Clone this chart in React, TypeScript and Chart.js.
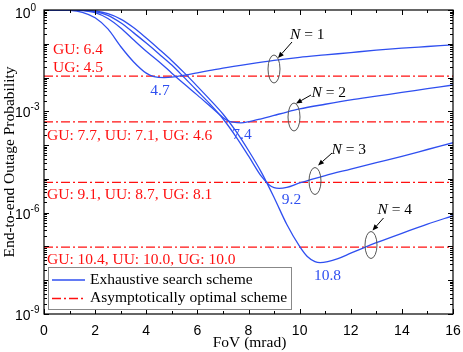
import React, { useEffect, useRef } from 'react';
import { Chart, registerables } from 'chart.js';

Chart.register(...registerables);

// FoV (mrad) and log10(outage probability) for the exhaustive search scheme
const fovN1 = [0, 0.5, 1, 1.5, 2, 2.5, 3, 3.5, 4, 4.3, 4.7, 5, 5.5, 6, 6.5, 7, 8, 9, 10, 11, 12, 13, 14, 15, 16];
const logN1 = [0, 0, -0.01, -0.07, -0.23, -0.56, -1.08, -1.53, -1.87, -1.97, -2.0, -1.99, -1.93, -1.86, -1.79, -1.72, -1.6, -1.49, -1.4, -1.33, -1.26, -1.19, -1.13, -1.08, -1.03];

const fovN2 = [0, 1, 1.5, 2, 2.5, 3, 3.5, 4, 4.5, 5, 5.5, 6, 6.5, 7, 7.2, 7.4, 7.7, 8, 8.5, 9, 9.5, 10, 11, 12, 13, 14, 15, 16];
const logN2 = [0, 0, -0.015, -0.08, -0.25, -0.53, -0.88, -1.22, -1.53, -1.87, -2.2, -2.52, -2.85, -3.18, -3.28, -3.32, -3.34, -3.31, -3.22, -3.12, -3.02, -2.93, -2.79, -2.66, -2.55, -2.44, -2.33, -2.22];

const fovN3 = [0, 1, 1.5, 2, 2.5, 3, 3.5, 4, 4.5, 5, 5.5, 6, 6.5, 7, 7.5, 8, 8.5, 8.8, 9, 9.2, 9.5, 10, 11, 12, 13, 14, 15, 16];
const logN3 = [0, 0, -0.01, -0.05, -0.16, -0.38, -0.67, -0.98, -1.3, -1.63, -2.01, -2.4, -2.79, -3.22, -3.74, -4.32, -4.92, -5.17, -5.26, -5.28, -5.25, -5.12, -4.9, -4.71, -4.52, -4.33, -4.13, -3.93];

const fovN4 = [0, 1, 1.5, 2, 2.5, 3, 3.5, 4, 4.5, 5, 5.5, 6, 6.5, 7, 7.5, 8, 8.5, 9, 9.5, 10, 10.3, 10.6, 10.8, 11.1, 11.5, 12, 12.5, 13, 14, 15, 16];
const logN4 = [0, 0, -0.005, -0.03, -0.11, -0.27, -0.52, -0.83, -1.16, -1.5, -1.87, -2.26, -2.66, -3.08, -3.58, -4.16, -4.8, -5.55, -6.35, -7.0, -7.3, -7.45, -7.48, -7.45, -7.36, -7.2, -7.04, -6.89, -6.61, -6.34, -6.09];

// Asymptotically optimal scheme levels (outage probability)
const asymLevels = [1.1e-2, 4.9e-4, 7.9e-6, 9.5e-8];

// Text annotations
const asymTexts = [
  ['GU: 6.4', 'UG: 4.5'],
  ['GU: 7.7, UU: 7.1, UG: 4.6'],
  ['GU: 9.1, UU: 8.7, UG: 8.1'],
  ['GU: 10.4, UU: 10.0, UG: 10.0'],
];
const minTexts = ['4.7', '7.4', '9.2', '10.8'];
const nTexts = ['1', '2', '3', '4'];

const xTicks = [0, 2, 4, 6, 8, 10, 12, 14, 16];
const yDecadeLabels = [0, -3, -6, -9];

const BLUE = '#2f4ff0';
const RED = '#ff1010';
const SERIF = '"Liberation Serif", "Times New Roman", serif';
const SANS = '"Liberation Sans", Arial, sans-serif';

function toPoints(xs: number[], ls: number[]) {
  return xs.map((x, i) => ({ x, y: Math.pow(10, ls[i]) }));
}

const overlay = {
  id: 'overlay',
  afterDraw(chart: any) {
    const ctx: CanvasRenderingContext2D = chart.ctx;
    const { left, right, top, bottom } = chart.chartArea;
    const xs = chart.scales.x;
    const ys = chart.scales.y;
    ctx.save();

    // frame
    ctx.strokeStyle = '#000';
    ctx.lineWidth = 1.2;
    ctx.strokeRect(left, top, right - left, bottom - top);

    // x ticks (inside, mirrored top)
    ctx.lineWidth = 1;
    ctx.beginPath();
    for (let v = 0; v <= 16; v += 1) {
      const px = Math.round(xs.getPixelForValue(v)) + 0.5;
      const len = v % 2 === 0 ? 5 : 3;
      ctx.moveTo(px, bottom);
      ctx.lineTo(px, bottom - len);
      ctx.moveTo(px, top);
      ctx.lineTo(px, top + len);
    }
    // y ticks
    for (let k = -9; k <= 0; k++) {
      const py = Math.round(ys.getPixelForValue(Math.pow(10, k))) + 0.5;
      ctx.moveTo(left, py);
      ctx.lineTo(left + 5, py);
      ctx.moveTo(right, py);
      ctx.lineTo(right - 5, py);
      if (k < 0) {
        for (let m = 2; m <= 9; m++) {
          const pm = Math.round(ys.getPixelForValue(m * Math.pow(10, k))) + 0.5;
          ctx.moveTo(left, pm);
          ctx.lineTo(left + 3, pm);
          ctx.moveTo(right, pm);
          ctx.lineTo(right - 3, pm);
        }
      }
    }
    ctx.stroke();

    // x tick labels
    ctx.fillStyle = '#000';
    ctx.font = `14px ${SANS}`;
    ctx.textAlign = 'center';
    ctx.textBaseline = 'alphabetic';
    xTicks.forEach((v) => {
      ctx.fillText(String(v), xs.getPixelForValue(v), 335);
    });

    // y tick labels with superscript
    yDecadeLabels.forEach((k) => {
      const py = ys.getPixelForValue(Math.pow(10, k));
      ctx.font = `14px ${SANS}`;
      ctx.textAlign = 'left';
      const base = k === 0 ? py + 8 : py + 6;
      ctx.fillText('10', 15, base);
      const w = ctx.measureText('10').width;
      ctx.font = `10px ${SANS}`;
      ctx.fillText(k === 0 ? '0' : String(k), 15 + w, base - 7);
    });

    // axis titles
    ctx.font = `15.5px ${SERIF}`;
    ctx.textAlign = 'center';
    ctx.fillText('FoV (mrad)', (left + right) / 2 + 1, 346.5);
    ctx.save();
    ctx.translate(13.5, (top + bottom) / 2);
    ctx.rotate(-Math.PI / 2);
    ctx.fillText('End-to-end Outage Probability', 0, 0);
    ctx.restore();

    // red labels
    ctx.fillStyle = RED;
    ctx.textAlign = 'left';
    ctx.font = `15.5px ${SERIF}`;
    ctx.fillText(asymTexts[0][0], 53, 53.5);
    ctx.fillText(asymTexts[0][1], 53, 71.5);
    ctx.fillText(asymTexts[1][0], 47, 140);
    ctx.fillText(asymTexts[2][0], 47, 198.5);
    ctx.fillText(asymTexts[3][0], 47, 264);

    // blue minimum labels
    ctx.fillStyle = BLUE;
    ctx.textAlign = 'center';
    const minPos = [
      [160, 95],
      [242, 138.5],
      [291.5, 203.5],
      [327.5, 279.5],
    ];
    minTexts.forEach((t, i) => ctx.fillText(t, minPos[i][0], minPos[i][1]));

    // ellipses + arrows + N labels
    const ell = [
      [274, 69, 6, 14],
      [294, 117, 6, 14],
      [315, 181, 6, 13.5],
      [371, 245, 6, 13.5],
    ];
    const arr = [
      [292, 42, 278, 58],
      [311, 95, 296, 103.5],
      [332, 153, 318, 165.5],
      [383.5, 218, 372.5, 230.5],
    ];
    const nPos = [
      [290, 38.5],
      [311.5, 97],
      [331.5, 153.5],
      [377.5, 213.5],
    ];
    ctx.strokeStyle = '#555';
    ctx.lineWidth = 1;
    ell.forEach(([cx, cy, rx, ry]) => {
      ctx.beginPath();
      ctx.ellipse(cx, cy, rx, ry, 0, 0, Math.PI * 2);
      ctx.stroke();
    });
    ctx.strokeStyle = '#000';
    ctx.fillStyle = '#000';
    arr.forEach(([x1, y1, x2, y2]) => {
      const ang = Math.atan2(y2 - y1, x2 - x1);
      const hl = 6;
      const hw = 2.5;
      const bx = x2 - hl * Math.cos(ang);
      const by = y2 - hl * Math.sin(ang);
      ctx.beginPath();
      ctx.moveTo(x1, y1);
      ctx.lineTo(bx, by);
      ctx.stroke();
      ctx.beginPath();
      ctx.moveTo(x2, y2);
      ctx.lineTo(bx + hw * Math.sin(ang), by - hw * Math.cos(ang));
      ctx.lineTo(bx - hw * Math.sin(ang), by + hw * Math.cos(ang));
      ctx.closePath();
      ctx.fill();
    });
    ctx.textAlign = 'left';
    nTexts.forEach((t, i) => {
      const [x, y] = nPos[i];
      ctx.font = `italic 15.5px ${SERIF}`;
      ctx.fillText('N', x, y);
      const w = ctx.measureText('N').width;
      ctx.font = `15.5px ${SERIF}`;
      ctx.fillText(' = ' + t, x + w, y);
    });

    // legend
    const lx = 48.5, ly = 267.5, lw = 243, lh = 42;
    ctx.fillStyle = '#fff';
    ctx.fillRect(lx, ly, lw, lh);
    ctx.strokeStyle = '#888';
    ctx.lineWidth = 1;
    ctx.strokeRect(lx, ly, lw, lh);
    ctx.strokeStyle = BLUE;
    ctx.lineWidth = 1.3;
    ctx.beginPath();
    ctx.moveTo(52, 280);
    ctx.lineTo(85, 280);
    ctx.stroke();
    ctx.strokeStyle = RED;
    ctx.setLineDash([9, 3, 2, 3]);
    ctx.beginPath();
    ctx.moveTo(52, 298.5);
    ctx.lineTo(85, 298.5);
    ctx.stroke();
    ctx.setLineDash([]);
    ctx.fillStyle = '#000';
    ctx.font = `15.5px ${SERIF}`;
    ctx.textAlign = 'left';
    ctx.textBaseline = 'middle';
    ctx.fillText('Exhaustive search scheme', 90, 280);
    ctx.fillText('Asymptotically optimal scheme', 90, 298);

    ctx.restore();
  },
};

export default function App() {
  const ref = useRef<HTMLCanvasElement | null>(null);
  useEffect(() => {
    document.body.style.margin = '0';
    const canvas = ref.current;
    if (!canvas) return;
    const blueSets = [
      toPoints(fovN1, logN1),
      toPoints(fovN2, logN2),
      toPoints(fovN3, logN3),
      toPoints(fovN4, logN4),
    ].map((data) => ({
      data,
      borderColor: BLUE,
      borderWidth: 1.3,
      pointRadius: 0,
      cubicInterpolationMode: 'monotone' as const,
      fill: false,
    }));
    const redSets = asymLevels.map((v) => ({
      data: [
        { x: 0, y: v },
        { x: 16, y: v },
      ],
      borderColor: RED,
      borderWidth: 1.3,
      borderDash: [9, 3, 2, 3],
      pointRadius: 0,
      fill: false,
    }));
    const chart = new Chart(canvas, {
      type: 'line',
      data: { datasets: [...blueSets, ...redSets] as any },
      options: {
        animation: false,
        responsive: false,
        devicePixelRatio: 1,
        layout: { padding: { left: 44, right: 10, top: 10, bottom: 38 } },
        plugins: { legend: { display: false }, tooltip: { enabled: false } },
        scales: {
          x: { type: 'linear', min: 0, max: 16, display: false },
          y: { type: 'logarithmic', min: 1e-9, max: 1, display: false },
        },
      },
      plugins: [overlay],
    });
    return () => chart.destroy();
  }, []);
  return (
    <canvas
      ref={ref}
      width={463}
      height={352}
      style={{ display: 'block', width: 463, height: 352 }}
    />
  );
}
